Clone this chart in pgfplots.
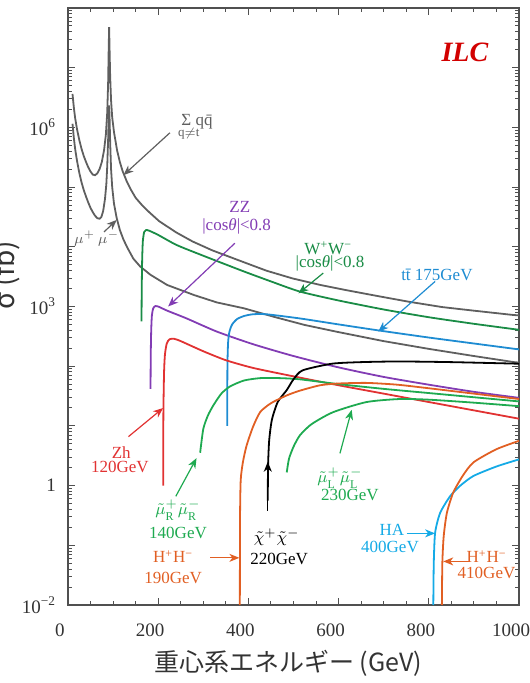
\documentclass[border=0pt]{standalone}
\usepackage{pgfplots}
\pgfplotsset{compat=1.18}
\usepackage{fontspec}
\setmainfont{Liberation Serif}
\newfontfamily\jp{Noto Sans CJK JP}
\usetikzlibrary{arrows.meta}
\definecolor{cgray}{RGB}{95,95,95}
\definecolor{wwgreen}{RGB}{26,140,70}
\definecolor{slgreen}{RGB}{30,170,80}
\definecolor{zzpurple}{RGB}{130,60,180}
\definecolor{ttblue}{RGB}{30,140,210}
\definecolor{hablue}{RGB}{20,170,230}
\definecolor{zhred}{RGB}{225,50,50}
\definecolor{hhorange}{RGB}{225,95,35}
\definecolor{ilcred}{RGB}{210,0,0}
\definecolor{framec}{RGB}{80,80,80}
\tikzset{ann/.style={font=\fontsize{8.5}{9}\selectfont, inner sep=0pt},
  arr/.style={-{Stealth[length=5pt,width=4pt,inset=1.5pt]}, line width=0.6pt}}
\begin{document}
\begin{tikzpicture}
\begin{axis}[
  width=225.5pt, height=298.5pt, scale only axis,
  xmin=0, xmax=1000, ymin=1e-2, ymax=1e8, ymode=log,
  axis line style={framec, line width=0.7pt},
  every tick/.style={framec, line width=0.5pt},
  major tick length=3.5pt, minor tick length=2pt,
  xtick={0,200,400,600,800,1000}, minor x tick num=3,
  ytick={1e-2,1e-1,1,10,100,1e3,1e4,1e5,1e6,1e7,1e8},
  yticklabels={10\textsuperscript{−2},,1,,,10\textsuperscript{3},,,10\textsuperscript{6},,},
  minor ytick={0.02,0.03,0.04,0.05,0.06,0.07,0.08,0.09,0.2,0.3,0.4,0.5,0.6,0.7,0.8,0.9,2,3,4,5,6,7,8,9,20,30,40,50,60,70,80,90,200,300,400,500,600,700,800,900,2000,3000,4000,5000,6000,7000,8000,9000,2e4,3e4,4e4,5e4,6e4,7e4,8e4,9e4,2e5,3e5,4e5,5e5,6e5,7e5,8e5,9e5,2e6,3e6,4e6,5e6,6e6,7e6,8e6,9e6,2e7,3e7,4e7,5e7,6e7,7e7,8e7,9e7},
  /pgf/number format/assume math mode=true,
  /pgf/number format/1000 sep={},
  ticklabel style={font=\fontsize{9.5}{10}\selectfont, color=black!80},
  xticklabel style={yshift=-6pt, xshift=-4pt},
  yticklabel style={xshift=-2.5pt},
  xlabel={\jp 重心系エネルギー (GeV)},
  xlabel style={font=\fontsize{12.5}{13}\selectfont, at={(axis description cs:0.488,-0.097)}, anchor=center, color=black!80},
  every axis plot/.append style={line width=0.9pt},
]
% Sigma q qbar
\addplot[cgray] coordinates {(10,3.63e6)(13,2.14e6)(16,1.41e6)(20,9.33e5)(25,6.17e5)(30,4.37e5)(35,3.31e5)(40,2.63e5)(45,2.14e5)(50,1.82e5)(55,1.62e5)(60,1.58e5)(65,1.70e5)(70,2.00e5)(75,2.63e5)(80,4.17e5)(84,7.59e5)(87,1.78e6)(89,5.62e6)(90.2,2.00e7)(91.2,4.79e7)(92.2,2.00e7)(93.5,7.08e6)(95.5,2.82e6)(98,1.48e6)(102,8.32e5)(109,4.07e5)(115,2.63e5)(121,1.86e5)(130,1.26e5)(140,8.91e4)(150,6.61e4)(165,4.90e4)(180,3.80e4)(202,2.69e4)(240,1.74e4)(276,1.23e4)(320,8.71e3)(387,5.62e3)(440,3.98e3)(498,2.95e3)(560,2.29e3)(620,1.86e3)(690,1.48e3)(756,1.20e3)(830,977)(900,851)(985,724)(1000,708)};
% mu+ mu-
\addplot[cgray] coordinates {(10,1.15e6)(13,6.61e5)(16,4.27e5)(20,2.75e5)(25,1.74e5)(30,1.20e5)(35,8.91e4)(40,6.92e4)(45,5.50e4)(50,4.47e4)(55,3.80e4)(60,3.31e4)(65,3.02e4)(70,2.95e4)(74,3.16e4)(78,3.98e4)(82,6.31e4)(85,1.12e5)(87,2.24e5)(89,6.31e5)(90.2,1.41e6)(91.2,2.34e6)(92.2,1.41e6)(93.5,5.62e5)(95.5,2.00e5)(98,1.00e5)(102,5.25e4)(108,3.02e4)(115,1.91e4)(123,1.32e4)(132,9.55e3)(145,6.31e3)(160,4.68e3)(183,3.39e3)(220,2.29e3)(280,1.55e3)(330,1.17e3)(390,933)(460,661)(525,490)(600,372)(700,263)(800,195)(900,148)(989,117)(1000,115)};
% WW
\addplot[wwgreen, smooth, tension=0.4] coordinates {(163,562)(163.5,2.00e3)(164.5,6.31e3)(166,1.26e4)(169,1.78e4)(173,1.91e4)(180,1.86e4)(200,1.58e4)(241,1.07e4)(300,7.08e3)(389,3.89e3)(450,2.63e3)(514,1.78e3)(600,1.26e3)(700,891)(800,661)(900,513)(1000,407)};
% ZZ
\addplot[zzpurple, smooth, tension=0.4] coordinates {(183,41.7)(183.5,158)(184.5,398)(186,708)(189,933)(194,1.02e3)(200,1.00e3)(220,851)(263,631)(330,380)(410,234)(500,148)(600,95.5)(700,66.1)(800,49.0)(900,37.2)(1000,29.5)};
% ttbar
\addplot[ttblue, smooth, tension=0.4] coordinates {(353,10)(353.5,100)(355,251)(358,380)(364,501)(375,617)(390,692)(410,741)(440,741)(514,631)(600,501)(688,398)(800,302)(900,240)(1000,191)};
% Zh
\addplot[zhred, smooth, tension=0.4] coordinates {(211,1.0)(211.5,15.8)(213,79.4)(215,158)(219,240)(225,282)(235,288)(250,263)(300,178)(350,126)(411,93.3)(500,67.6)(600,47.9)(700,34.7)(800,25.1)(900,18.2)(1000,13.2)};
% smuon R
\addplot[slgreen, smooth, tension=0.4] coordinates {(293,3.55)(300,8.91)(310,14.8)(322,21.9)(340,34.7)(359,45.7)(390,57.5)(426,63.1)(470,63.1)(514,60.3)(600,50.1)(700,41.7)(800,35.5)(900,30.2)(1000,25.7)};
% smuon L
\addplot[slgreen, smooth, tension=0.4] coordinates {(485,1.66)(490,2.82)(500,4.47)(514,6.92)(540,10.7)(588,17.0)(662,25.1)(736,28.2)(800,27.5)(900,24.5)(1000,21.4)};
% chargino
\addplot[black, smooth, tension=0.4] coordinates {(443,0.562)(443.5,2.0)(446,5.62)(452,12.6)(465,25.1)(485,39.8)(500,60.3)(520,85.1)(585,110)(650,117)(733,120)(850,117)(1000,110)};
% H+H- 190
\addplot[hhorange, smooth, tension=0.4] coordinates {(381,0.01)(381.5,0.316)(383,1.26)(388,2.51)(396,4.68)(410,9.55)(426,17.0)(450,24.0)(485,32.4)(514,38.9)(559,47.9)(600,51.3)(662,52.5)(730,49.0)(800,42.7)(900,34.7)(1000,28.2)};
% HA 400
\addplot[hablue, smooth, tension=0.4] coordinates {(810,0.01)(811,0.0501)(814,0.162)(825,0.347)(847,0.661)(870,1.0)(899,1.45)(950,2.09)(1000,2.75)};
% H+H- 410
\addplot[hhorange, smooth, tension=0.4] coordinates {(829,0.01)(830,0.0501)(833,0.141)(840,0.347)(854,0.759)(875,1.45)(899,2.45)(950,4.07)(1000,5.62)};

% annotations
\node[ann, text=cgray] at (rel axis cs:0.286,0.809) {Σ q\={q}};
\node[ann, text=cgray, font=\fontsize{6.5}{7}\selectfont] at (rel axis cs:0.268,0.789) {q$\neq$t};
\draw[arr, cgray] (rel axis cs:0.226,0.791) -- (rel axis cs:0.123,0.720);
\node[ann, text=cgray, font=\fontsize{7}{7}\selectfont] at (rel axis cs:0.064,0.614) {$\mu^{+}\,\mu^{-}$};
\draw[arr, cgray] (rel axis cs:0.080,0.625) -- (rel axis cs:0.108,0.645);

\node[ann, text=zzpurple] at (rel axis cs:0.381,0.667) {ZZ};
\node[ann, text=zzpurple] at (rel axis cs:0.374,0.634) {|cos\textit{θ}|<0.8};
\draw[arr, zzpurple] (rel axis cs:0.370,0.606) -- (rel axis cs:0.222,0.500);

\node[ann, text=wwgreen] at (rel axis cs:0.577,0.597) {W\textsuperscript{+}W\textsuperscript{−}};
\node[ann, text=wwgreen] at (rel axis cs:0.581,0.572) {|cos\textit{θ}|<0.8};
\draw[arr, wwgreen] (rel axis cs:0.566,0.556) -- (rel axis cs:0.511,0.522);

\node[ann, text=ttblue] at (rel axis cs:0.818,0.553) {t\={t} 175GeV};
\draw[arr, ttblue] (rel axis cs:0.814,0.542) -- (rel axis cs:0.688,0.458);

\node[ann, text=zhred] at (rel axis cs:0.118,0.256) {Zh};
\node[ann, text=zhred] at (rel axis cs:0.115,0.231) {120GeV};
\draw[arr, zhred] (rel axis cs:0.134,0.282) -- (rel axis cs:0.211,0.330);

\node[ann, text=slgreen] at (rel axis cs:0.244,0.159) {$\tilde{\mu}^{+}_{\mathrm{R}}\tilde{\mu}^{-}_{\mathrm{R}}$};
\node[ann, text=slgreen] at (rel axis cs:0.244,0.121) {140GeV};
\draw[arr, slgreen] (rel axis cs:0.239,0.182) -- (rel axis cs:0.285,0.246);

\node[ann, text=hhorange] at (rel axis cs:0.233,0.081) {H\textsuperscript{+}H\textsuperscript{−}};
\node[ann, text=hhorange] at (rel axis cs:0.233,0.045) {190GeV};
\draw[arr, hhorange] (rel axis cs:0.315,0.079) -- (rel axis cs:0.380,0.079);

\node[ann, text=black] at (rel axis cs:0.463,0.113) {$\tilde{\chi}^{+}\tilde{\chi}^{-}$};
\node[ann, text=black] at (rel axis cs:0.468,0.077) {220GeV};
\draw[arr, black] (rel axis cs:0.443,0.158) -- (rel axis cs:0.443,0.240);

\node[ann, text=slgreen] at (rel axis cs:0.603,0.213) {$\tilde{\mu}^{+}_{\mathrm{L}}\tilde{\mu}^{-}_{\mathrm{L}}$};
\node[ann, text=slgreen] at (rel axis cs:0.625,0.185) {230GeV};
\draw[arr, slgreen] (rel axis cs:0.603,0.254) -- (rel axis cs:0.629,0.327);

\node[ann, text=hablue] at (rel axis cs:0.718,0.126) {HA};
\node[ann, text=hablue] at (rel axis cs:0.714,0.098) {400GeV};
\draw[arr, hablue] (rel axis cs:0.751,0.120) -- (rel axis cs:0.814,0.120);

\node[ann, text=hhorange] at (rel axis cs:0.928,0.081) {H\textsuperscript{+}H\textsuperscript{−}};
\node[ann, text=hhorange] at (rel axis cs:0.928,0.053) {410GeV};
\draw[arr, hhorange] (rel axis cs:0.891,0.073) -- (rel axis cs:0.832,0.073);

\node[text=ilcred, font=\fontsize{14}{14}\selectfont\bfseries\itshape] at (rel axis cs:0.880,0.926) {ILC};
\end{axis}
\node[rotate=90, font=\jp\fontsize{14}{14}\selectfont, text=black!80] at ([shift={(-31pt,165pt)}]current axis.south west) {σ (fb)};
\pgfresetboundingbox
\path ([shift={(-34pt,-39pt)}]current axis.south west) rectangle ([shift={(5pt,4pt)}]current axis.north east);
\end{tikzpicture}
\end{document}
